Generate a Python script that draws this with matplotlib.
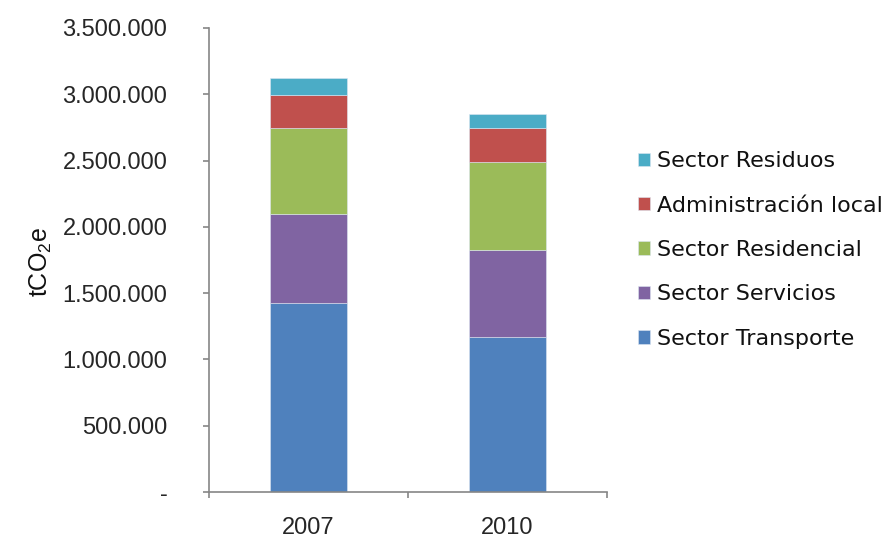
import matplotlib
matplotlib.use("Agg")
import matplotlib.pyplot as plt
from matplotlib.ticker import FuncFormatter, FixedLocator
import numpy as np

# values (tCO2e)
years = ["2007", "2010"]
transporte = [1425000, 1172000]
servicios = [673000, 657000]
residencial = [647000, 663000]
administracion = [253000, 250000]
residuos = [124000, 109000]

series_names = ["Sector Transporte", "Sector Servicios", "Sector Residencial",
                "Administración local", "Sector Residuos"]
colors = ["#4F81BD", "#8064A2", "#9BBB59", "#C0504D", "#4BACC6"]

plt.rcParams['font.family'] = ['Liberation Sans', 'DejaVu Sans']

fig = plt.figure(figsize=(8.93, 5.41), dpi=100)
ax = fig.add_axes([209 / 893, 49 / 541, 398 / 893, 464 / 541])

x = np.arange(len(years))
bottom = np.zeros(len(years))
handles = []
for name, vals, col in zip(series_names,
                           [transporte, servicios, residencial, administracion, residuos],
                           colors):
    b = ax.bar(x, vals, width=0.39, bottom=bottom, color=col,
               edgecolor="#dce6f2", linewidth=0.4, label=name)
    handles.append(b)
    bottom += np.array(vals)

ax.set_xlim(-0.5, 1.5)
ax.set_ylim(0, 3500000)
ax.set_yticks(np.arange(0, 3500001, 500000))

def fmt(v, pos):
    if v == 0:
        return "-"
    return f"{int(v):,}".replace(",", ".")

ax.yaxis.set_major_formatter(FuncFormatter(fmt))

ax.set_xticks(x)
ax.set_xticklabels(years)
ax.xaxis.set_minor_locator(FixedLocator([-0.5, 0.5, 1.5]))
ax.tick_params(axis='x', which='major', length=0, pad=18)
ax.tick_params(axis='x', which='minor', length=4, width=1.2, color="#868686", direction='out')
ax.tick_params(axis='y', length=4, width=1.2, color="#868686", direction='out', pad=26)
ax.tick_params(labelsize=17, labelcolor="#262626")

for s in ["top", "right"]:
    ax.spines[s].set_visible(False)
for s in ["left", "bottom"]:
    ax.spines[s].set_color("#868686")
    ax.spines[s].set_linewidth(1.2)

fig.text(41 / 893, 1 - 262 / 541, r"tCO$\mathregular{_2}$e", rotation=90,
         ha="center", va="center", fontsize=18, color="#111111")

leg = fig.legend(handles[::-1], series_names[::-1], loc="center left",
                 bbox_to_anchor=(618 / 893, 1 - 250 / 541),
                 frameon=False, handlelength=0.55, handleheight=0.55,
                 handletextpad=0.3, labelspacing=1.1,
                 prop={'family': 'DejaVu Sans', 'size': 16})
for t in leg.get_texts():
    t.set_color("#111111")

fig.savefig("out.png", dpi=100)
